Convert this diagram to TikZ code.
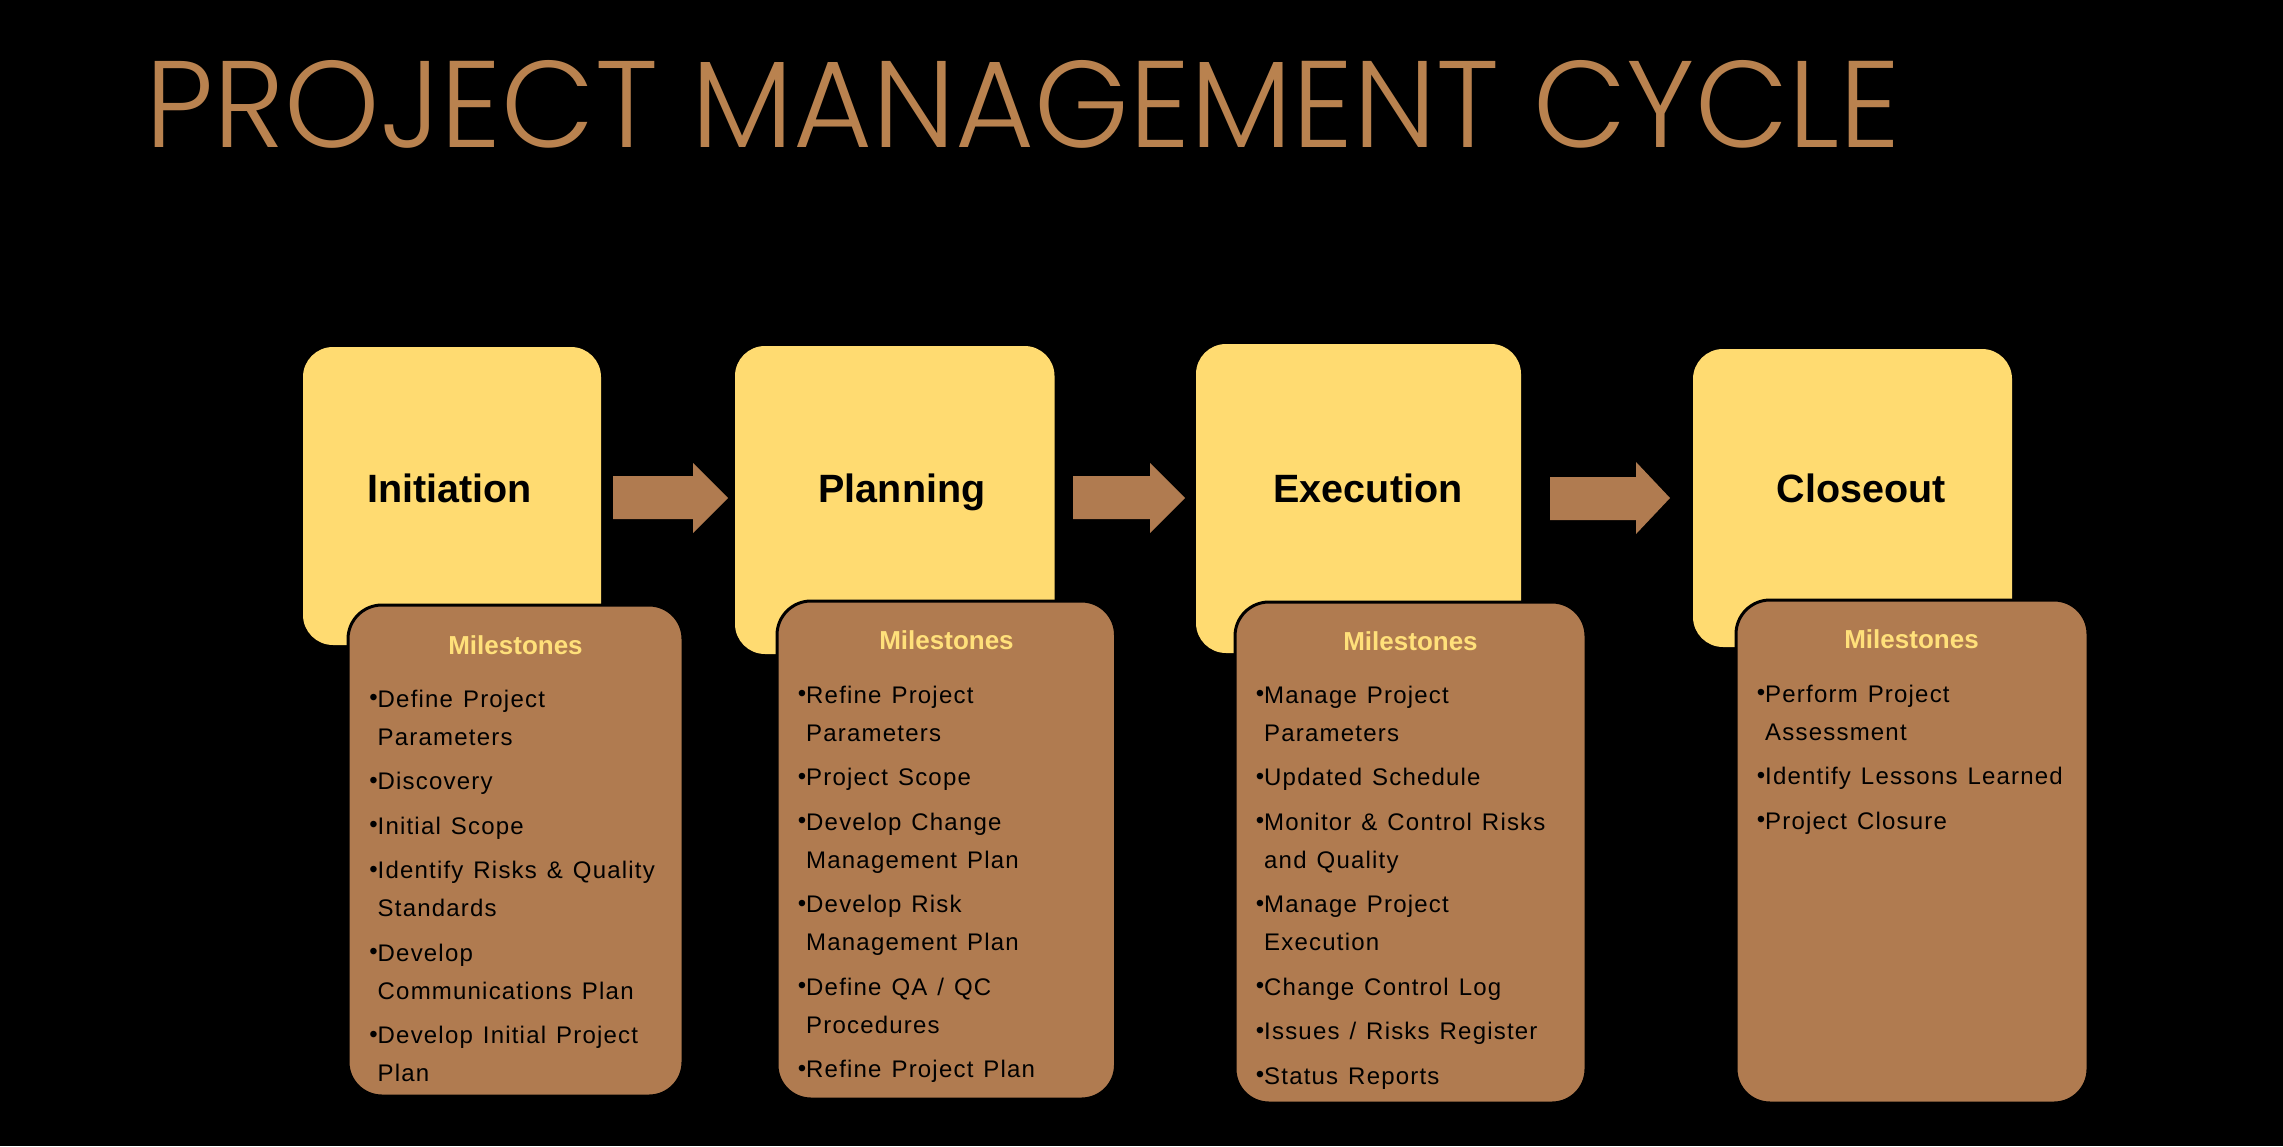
\documentclass[tikz,border=0pt]{standalone}
\usepackage{fontspec}
\usepackage{graphicx}
\setmainfont{Liberation Sans}
\newfontfamily\itemfont[LetterSpace=5]{Liberation Sans}
\IfFontExistsTF{Poppins Light}{\newfontfamily\titlefont{Poppins Light}}{\newfontfamily\titlefont{Poppins}}
\definecolor{stageyellow}{HTML}{FFDB71}
\definecolor{milebrown}{HTML}{B07B50}
\definecolor{titletan}{HTML}{B9824F}
\definecolor{mileyellow}{HTML}{FFE07A}
\newcommand\msitem{\leavevmode\llap{\raisebox{1.5pt}{\textbullet}}}
\begin{document}
\begin{tikzpicture}[x=1pt,y=-1pt,
  stagebox/.style={rectangle, rounded corners=30pt, fill=stageyellow, inner sep=0pt},
  milebox/.style={rectangle, rounded corners=34pt, fill=milebrown, draw=black, line width=3pt, inner sep=0pt},
  stagelabel/.style={anchor=base, inner sep=0pt, font=\bfseries\fontsize{39.5}{47}\selectfont},
  milehead/.style={anchor=base, inner sep=0pt, text=mileyellow, font=\bfseries\fontsize{26}{31}\selectfont},
  milelist/.style={anchor=base west, inner sep=0pt, text width=400pt, align=left, font=\itemfont\fontsize{24}{38}\selectfont, execute at begin node={\spaceskip=10pt\relax}},
  flowarrow/.style={fill=milebrown}]
\useasboundingbox (0,0) rectangle (2283,1146);
\fill[black] (0,0) rectangle (2283,1146);
\node [anchor=base west, inner sep=0pt, text=titletan] (title) at (145,147) {\resizebox{1755pt}{87pt}{\titlefont PROJECT MANAGEMENT CYCLE}};
\node [stagebox, minimum width=298pt, minimum height=298pt] (init) at (452,496) {};
\node [stagebox, minimum width=319.5pt, minimum height=308pt] (plan) at (894.75,500) {};
\node [stagebox, minimum width=325pt, minimum height=309pt] (exec) at (1358.5,498.5) {};
\node [stagebox, minimum width=319pt, minimum height=298pt] (close) at (1852.5,498) {};
\node [stagelabel] (init label) at (449.5,502) {Initiation};
\node [stagelabel] (plan label) at (902,502) {Planning};
\node [stagelabel] (exec label) at (1368,502) {Execution};
\node [stagelabel] (close label) at (1861,502) {Closeout};
\fill[flowarrow] (613,476) -- (693,476) -- (693,463) -- (728,498) -- (693,533) -- (693,519) -- (613,519) -- cycle;
\fill[flowarrow] (1073,476) -- (1150,476) -- (1150,463) -- (1185,498) -- (1150,533) -- (1150,519) -- (1073,519) -- cycle;
\fill[flowarrow] (1550,477) -- (1636,477) -- (1636,462) -- (1670,498) -- (1636,534) -- (1636,520) -- (1550,520) -- cycle;
\node [milebox, minimum width=335pt, minimum height=491pt] (init ms) at (515.5,850.5) {};
\node [milebox, minimum width=338.5pt, minimum height=498pt] (plan ms) at (946.25,850) {};
\node [milebox, minimum width=351pt, minimum height=501pt] (exec ms) at (1410.5,852.5) {};
\node [milebox, minimum width=352pt, minimum height=503pt] (close ms) at (1912,851.5) {};
\node [milehead] (init head) at (515.5,654) {Milestones};
\node [milehead] (plan head) at (946.5,649) {Milestones};
\node [milehead] (exec head) at (1410.5,650.5) {Milestones};
\node [milehead] (close head) at (1911.5,648) {Milestones};
\node [milelist] (init list) at (377.5,707) {\msitem Define Project\\ Parameters\\[6.5pt]
  \msitem Discovery\\[6.5pt]
  \msitem Initial Scope\\[6.5pt]
  \msitem Identify Risks \& Quality\\ Standards\\[6.5pt]
  \msitem Develop\\ Communications Plan\\[6.5pt]
  \msitem Develop Initial Project\\ Plan};
\node [milelist] (plan list) at (806,703) {\msitem Refine Project\\ Parameters\\[6.5pt]
  \msitem Project Scope\\[6.5pt]
  \msitem Develop Change\\ Management Plan\\[6.5pt]
  \msitem Develop Risk\\ Management Plan\\[6.5pt]
  \msitem Define QA / QC\\ Procedures\\[6.5pt]
  \msitem Refine Project Plan};
\node [milelist] (exec list) at (1264,703) {\msitem Manage Project\\ Parameters\\[6.5pt]
  \msitem Updated Schedule\\[6.5pt]
  \msitem Monitor \& Control Risks\\ and Quality\\[6.5pt]
  \msitem Manage Project\\ Execution\\[6.5pt]
  \msitem Change Control Log\\[6.5pt]
  \msitem Issues / Risks Register\\[6.5pt]
  \msitem Status Reports};
\node [milelist] (close list) at (1765,702) {\msitem Perform Project\\ Assessment\\[6.5pt]
  \msitem Identify Lessons Learned\\[6.5pt]
  \msitem Project Closure};
\end{tikzpicture}
\end{document}
